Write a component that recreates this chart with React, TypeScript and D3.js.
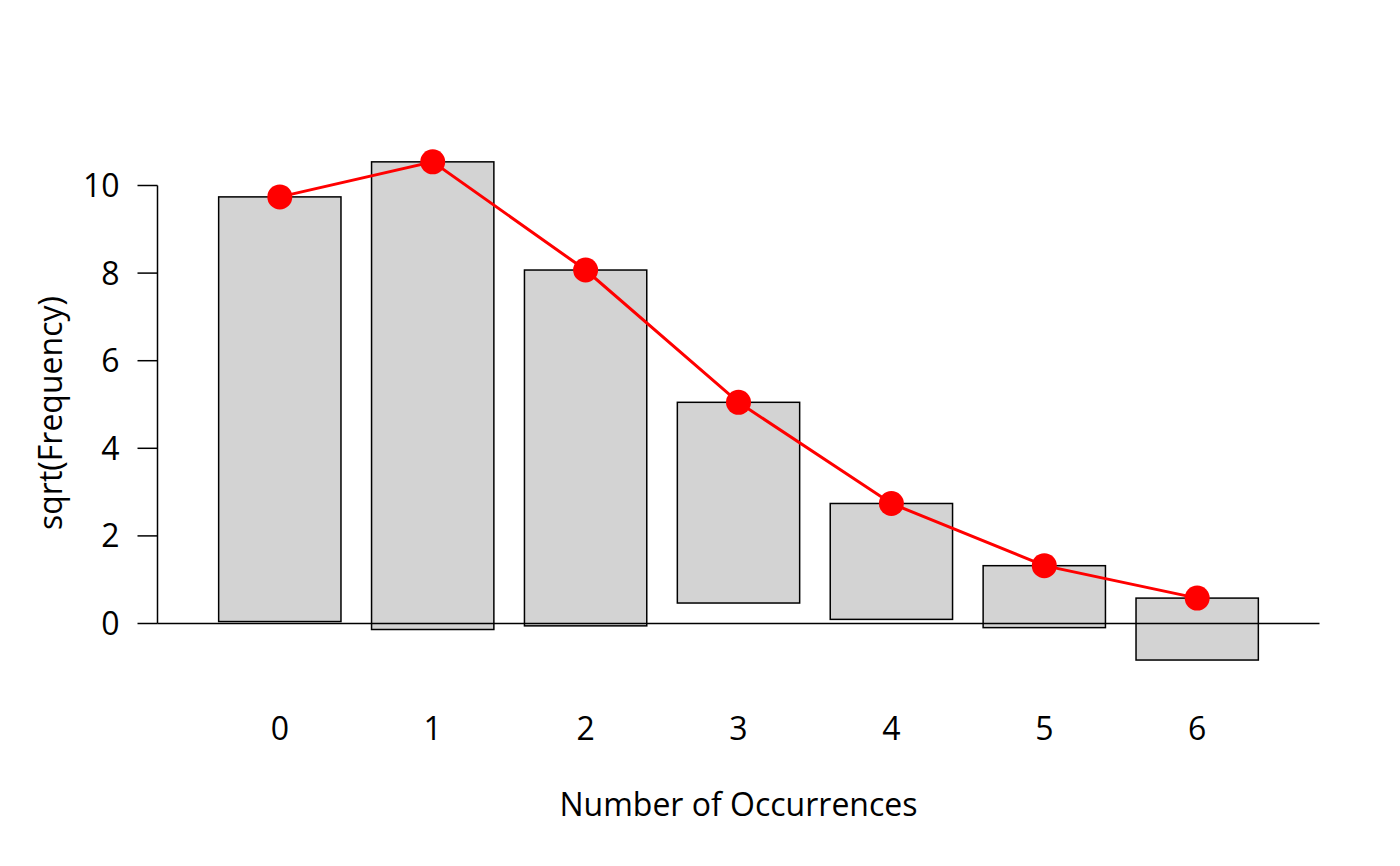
import { useEffect, useRef } from "react"
import * as d3 from "d3"

// hanging rootogram: observed counts hang from the fitted curve
const occurrences = [0, 1, 2, 3, 4, 5, 6]
const observed = [94, 114, 66, 21, 7, 2, 2]
const fittedSqrt = [9.74, 10.54, 8.07, 5.05, 2.74, 1.32, 0.58]
const yTicks = [0, 2, 4, 6, 8, 10]

export default function App() {
  const svgRef = useRef<SVGSVGElement>(null)

  useEffect(() => {
    if (!svgRef.current) return

    const width = 1400
    const height = 866
    const font = "'Open Sans', 'Noto Sans', sans-serif"
    const fontSize = 32

    const svg = d3.select(svgRef.current).attr("width", width).attr("height", height)
    svg.selectAll("*").remove()

    const x = d3.scaleLinear().domain([-0.8, 6.8]).range([157.5, 1319.5])
    const y = d3.scaleLinear().domain([0, 10]).range([623.5, 185.5])
    const barW = x(0.4) - x(-0.4)

    const rows = occurrences.map((k, i) => ({
      k,
      top: fittedSqrt[i],
      bottom: fittedSqrt[i] - Math.sqrt(observed[i]),
    }))

    // bars
    svg
      .append("g")
      .selectAll("rect")
      .data(rows)
      .enter()
      .append("rect")
      .attr("x", (d) => x(d.k) - barW / 2)
      .attr("y", (d) => y(d.top))
      .attr("width", barW)
      .attr("height", (d) => y(d.bottom) - y(d.top))
      .attr("fill", "#d3d3d3")
      .attr("stroke", "black")
      .attr("stroke-width", 1.5)

    // reference line at zero
    svg
      .append("line")
      .attr("x1", x(-0.8))
      .attr("x2", x(6.8))
      .attr("y1", y(0))
      .attr("y2", y(0))
      .attr("stroke", "black")
      .attr("stroke-width", 1.5)

    // y axis
    const yAxis = svg.append("g").attr("transform", `translate(${x(-0.8)},0)`)
    yAxis
      .append("line")
      .attr("x1", 0)
      .attr("x2", 0)
      .attr("y1", y(0))
      .attr("y2", y(10))
      .attr("stroke", "black")
      .attr("stroke-width", 1.5)
    const yt = yAxis.selectAll("g.tick").data(yTicks).enter().append("g")
    yt.append("line")
      .attr("x1", -20)
      .attr("x2", 0)
      .attr("y1", (d) => y(d))
      .attr("y2", (d) => y(d))
      .attr("stroke", "black")
      .attr("stroke-width", 1.5)
    yt.append("text")
      .attr("x", -38)
      .attr("y", (d) => y(d))
      .attr("dy", "0.36em")
      .attr("text-anchor", "end")
      .attr("font-family", font)
      .attr("font-size", fontSize)
      .text((d) => d)

    // x tick labels
    svg
      .append("g")
      .selectAll("text")
      .data(occurrences)
      .enter()
      .append("text")
      .attr("x", (d) => x(d))
      .attr("y", 740)
      .attr("text-anchor", "middle")
      .attr("font-family", font)
      .attr("font-size", fontSize)
      .text((d) => d)

    // fitted curve
    const line = d3
      .line<{ k: number; top: number }>()
      .x((d) => x(d.k))
      .y((d) => y(d.top))
    svg
      .append("path")
      .datum(rows)
      .attr("d", line)
      .attr("fill", "none")
      .attr("stroke", "red")
      .attr("stroke-width", 3)

    svg
      .append("g")
      .selectAll("circle")
      .data(rows)
      .enter()
      .append("circle")
      .attr("cx", (d) => x(d.k))
      .attr("cy", (d) => y(d.top))
      .attr("r", 12.5)
      .attr("fill", "red")

    // axis titles
    svg
      .append("text")
      .attr("x", x(3))
      .attr("y", 816)
      .attr("text-anchor", "middle")
      .attr("font-family", font)
      .attr("font-size", fontSize)
      .text("Number of Occurrences")

    svg
      .append("text")
      .attr("transform", `translate(62,413) rotate(-90)`)
      .attr("text-anchor", "middle")
      .attr("font-family", font)
      .attr("font-size", fontSize)
      .text("sqrt(Frequency)")
  }, [])

  return <svg ref={svgRef} style={{ position: "absolute", left: 0, top: 0 }} />
}
